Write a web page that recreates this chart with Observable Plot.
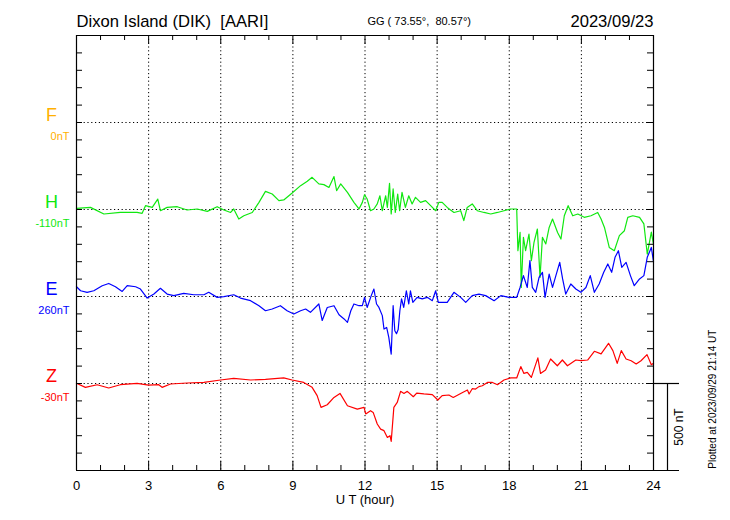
<!DOCTYPE html>
<html><head><meta charset="utf-8">
<script src="https://cdn.jsdelivr.net/npm/d3@7"></script>
<script src="https://cdn.jsdelivr.net/npm/@observablehq/plot@0.6"></script>
<style>body{margin:0;background:#fff}</style>
</head><body><div id="chart"></div>
<script>
// ---- data (deviation from each component's baseline, nT) ----
const hTime = [0,0.58,1.14,1.82,2.52,2.73,2.87,3.15,3.38,3.49,3.77,4.19,4.6,5.02,5.44,5.85,6.13,6.41,6.54,6.75,6.96,7.31,7.59,7.86,8.14,8.42,8.62,8.97,9.32,9.6,9.8,10.08,10.29,10.5,10.71,10.82,
  10.99,11.27,11.54,11.75,11.89,11.98,12.09,12.23,12.37,12.51,12.62,12.72,12.86,12.93,13.02,13.09,13.17,13.26,13.36,13.44,13.54,13.68,13.82,13.96,14.1,14.31,14.52,14.73,14.94,15.07,
  15.21,15.42,15.7,15.98,16.11,16.25,16.46,16.67,16.95,17.23,17.51,17.78,18.06,18.31,18.36,18.45,18.5,18.59,18.68,18.82,18.92,19.03,19.17,19.28,19.38,19.52,19.66,19.8,20.01,20.15,20.29,20.45,20.64,20.85,21.12,21.4,21.68,21.82,21.96,22.16,22.37,22.58,22.79,22.93,23.14,23.42,23.6,23.74,23.91,24.0];
const hDev = [6,12,-26,-17,-17,-22,22,12,60,-7,12,16,-3,3,-11,16,-3,-17,3,-55,-36,-17,41,104,89,51,55,95,137,162,185,147,143,127,189,108,
  147,98,41,3,41,85,60,-7,3,32,79,-7,79,12,150,-26,118,-17,89,-7,98,12,79,32,70,41,51,22,-7,41,
  41,12,-17,-7,-64,12,32,-7,-17,-26,-17,-7,3,3,-237,-132,-448,-160,-237,-141,-294,-189,-112,-390,-160,-198,-103,-55,-132,-170,-36,22,-36,-26,-45,-36,-17,-55,-103,-218,-237,-150,-122,-45,-36,-45,-83,-256,-130,-200];

const eTime = [0,0.17,0.44,0.72,1.07,1.34,1.62,1.9,2.11,2.46,2.66,2.94,3.22,3.49,3.77,4.05,4.46,4.88,5.3,5.5,5.85,6.13,6.54,6.82,7.24,7.59,7.86,8.14,8.48,8.76,9.04,9.32,9.53,9.73,10.08,10.22,10.43,10.71,10.92,
  11.13,11.27,11.41,11.54,11.75,11.89,11.98,12.09,12.26,12.37,12.48,12.58,12.72,12.79,12.9,12.99,13.09,13.17,13.24,13.31,13.38,13.45,13.52,13.61,13.72,13.82,13.89,13.99,14.17,14.38,14.59,14.8,14.94,15.05,
  15.42,15.7,15.98,16.19,16.46,16.74,17.02,17.37,17.65,17.99,18.31,18.45,18.59,18.75,18.86,18.96,19.1,19.24,19.38,19.49,19.66,19.8,19.94,20.1,20.22,20.35,20.56,20.77,20.98,21.19,21.37,21.54,21.74,21.93,22.1,22.26,22.4,22.54,22.68,22.86,23.04,23.2,23.42,23.6,23.74,23.91,24.0];
const eDev = [56,33,24,33,62,75,56,29,62,56,43,-9,14,47,14,5,18,10,10,24,-5,-1,10,-9,-24,-53,-82,-72,-53,-82,-101,-82,-72,-91,-43,-138,-63,-53,-105,
  -129,-149,-82,-43,-53,-53,-5,-63,5,43,-43,-63,-110,-187,-178,-235,-331,-53,-197,-214,-190,-82,-14,-63,33,-43,33,-34,-5,-14,-5,-24,33,-34,
  -34,24,-5,-34,5,14,5,-24,5,-5,-5,52,120,52,206,52,24,110,139,-5,129,52,120,196,101,14,72,43,24,52,120,24,72,139,187,139,225,263,167,196,120,62,101,120,225,282,200];

const zTime = [0,0.37,0.86,1.34,1.82,2.52,3.0,3.42,3.56,3.91,4.6,5.3,5.99,6.54,7.24,7.86,8.62,8.97,9.45,9.8,10.01,10.17,10.43,10.71,10.96,11.27,11.68,
  11.96,12.03,12.23,12.34,12.51,12.65,12.79,12.93,13.04,13.09,13.2,13.34,13.48,13.62,13.76,14.01,14.15,14.45,14.8,15.03,15.21,15.49,15.67,15.98,16.26,16.33,16.46,16.6,16.74,
  16.88,17.09,17.3,17.51,17.78,18.06,18.31,18.48,18.61,18.75,18.92,19.19,19.3,19.51,19.72,20.0,20.21,20.42,20.77,20.98,21.26,21.54,21.82,22.13,22.31,22.49,22.66,22.86,23.07,23.28,23.48,23.73,23.91,24.0];
const zDev = [1,-22,-7,-26,-7,1,-9,-7,-22,-3,3,6,20,29,20,24,32,20,6,-22,-70,-137,-122,-80,-57,-128,-147,
  -137,-175,-156,-166,-233,-262,-271,-310,-300,-333,-137,-109,-45,-57,-45,-76,-55,-60,-64,-95,-70,-66,-80,-57,-37,-60,-30,-32,-18,
  -13,6,6,-7,20,32,32,97,58,64,35,147,58,78,141,102,135,102,135,131,135,185,170,231,189,116,189,141,131,112,131,166,108,116];

const components = ["F","H","E","Z"];
const baselines = [2000,1500,1000,500];
const baseLabels = ["0nT","-110nT","260nT","-30nT"];
const colors = ["#ffb000","#10e810","#0000ff","#ff0000"];
const hourTicks = d3.range(0,25,1);
const majorHours = d3.range(0,25,3);
const gridHours = d3.range(3,24,3);
const nTTicks = d3.range(0,2501,100);
const scaleBarNT = 500;
const titleText = "Dixon Island (DIK)\u00a0\u00a0[AARI]";
const coordText = "GG ( 73.55°,\u00a0\u00a080.57°)";
const dateText = "2023/09/23";
const plottedText = "Plotted at 2023/09/29 21:14 UT";

// ---- layout helpers ----
const W = 730, H = 520, mL = 76, mR = 77, mT = 35, mB = 50;
const yPerPx = 2500 / (H - mT - mB);
const xPerPx = 24 / (W - mL - mR);

const mk = (times, devs, base) => times.map((t,i)=>({t, y: base + devs[i]}));
const hData = mk(hTime, hDev, baselines[1]);
const eData = mk(eTime, eDev, baselines[2]);
const zData = mk(zTime, zDev, baselines[3]);

const font = "Liberation Sans, Arial, Helvetica, sans-serif";
const dotted = {stroke:"#000", strokeDasharray:"1.2,2.6", strokeWidth:1};
const sx = 24 + 14*xPerPx;
const ex = 24 + 26*xPerPx;

const chart = Plot.plot({
  width: W, height: H,
  marginLeft: mL, marginRight: mR, marginTop: mT, marginBottom: mB,
  style: {fontFamily: font, background: "#fff", color: "#000"},
  x: {domain: [0,24], axis: null},
  y: {domain: [0,2500], axis: null},
  marks: [
    Plot.ruleY(baselines, {...dotted}),
    Plot.ruleX(gridHours, {...dotted}),
    Plot.line(hData, {x:"t", y:"y", stroke: colors[1], strokeWidth: 1.2}),
    Plot.line(eData, {x:"t", y:"y", stroke: colors[2], strokeWidth: 1.2}),
    Plot.line(zData, {x:"t", y:"y", stroke: colors[3], strokeWidth: 1.2}),
    Plot.ruleX([0,24], {y1:0, y2:2500, stroke:"#000", strokeWidth:1.2}),
    Plot.ruleY([2500], {x1:0, x2:24, stroke:"#000", strokeWidth:1.2}),
    Plot.ruleY([0], {x1:0, x2:ex, stroke:"#000", strokeWidth:1.2}),
    Plot.ruleX(hourTicks, {y1:0, y2: d => (d%3===0 ? 9 : 5)*yPerPx, stroke:"#000"}),
    Plot.ruleX(hourTicks, {y1:2500, y2: d => 2500-(d%3===0 ? 9 : 5)*yPerPx, stroke:"#000"}),
    Plot.ruleY(nTTicks, {x1:0, x2: 6*xPerPx, stroke:"#000"}),
    Plot.ruleY(nTTicks, {x1:24, x2: 24-6*xPerPx, stroke:"#000"}),
    Plot.ruleY([baselines[3]], {x1:24, x2:ex, stroke:"#000", strokeWidth:1.2}),
    Plot.ruleX([sx], {y1:0, y2:scaleBarNT, stroke:"#000", strokeWidth:1.2}),
    Plot.text([scaleBarNT + " nT"], {x: sx, y: scaleBarNT/2, dx: 12, rotate: -90, fontSize: 12, fill:"#000"}),
    Plot.text([plottedText], {x: sx, y: 410, dx: 45, rotate: -90, fontSize: 10, fill:"#000"}),
    Plot.text(majorHours, {x: d=>d, y: 0, dy: 15, text: d=>String(d), fontSize: 13, fill:"#000"}),
    Plot.text(["U T (hour)"], {x: 12, y: 0, dy: 29, fontSize: 13, fill:"#000"}),
    Plot.text(components, {x: 0, y: (d,i)=>baselines[i], dx: -25, dy: -7, fill: (d,i)=>colors[i], fontSize: 18}),
    Plot.text(baseLabels, {x: 0, y: (d,i)=>baselines[i], dx: -7, dy: 14, textAnchor: "end", fill: (d,i)=>colors[i], fontSize: 11}),
    Plot.text([titleText], {x: 0, y: 2500, dy: -14, textAnchor: "start", fontSize: 16.6, fill:"#000"}),
    Plot.text([coordText], {x: 12.1, y: 2500, dy: -14, textAnchor: "start", fontSize: 11, fill:"#000"}),
    Plot.text([dateText], {x: 24, y: 2500, dy: -14, textAnchor: "end", fontSize: 16.6, fill:"#000"})
  ]
});
document.getElementById("chart").appendChild(chart);
</script>
</body></html>
